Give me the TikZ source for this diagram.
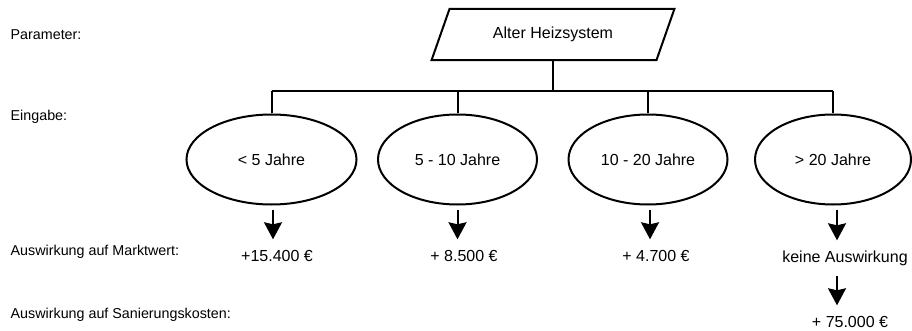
\documentclass[tikz,border=0pt]{standalone}
\usepackage{fontspec}
\setmainfont{Liberation Sans}
\usetikzlibrary{shapes.geometric,arrows.meta}
\begin{document}
\begin{tikzpicture}[x=1pt,y=-1pt,
 lbl/.style={anchor=west,inner sep=0pt,font=\fontsize{14.3}{17}\selectfont},
 txt/.style={font=\fontsize{16}{19}\selectfont},
 oval/.style={draw,line width=2pt,ellipse,minimum height=90pt,inner sep=0pt,txt},
 parabox/.style={rectangle,minimum width=224.5pt,minimum height=51pt,inner sep=0pt,txt},
 val/.style={txt,inner sep=0pt,text height=11.5pt,text depth=3.5pt},
 conn/.style={line width=2pt},
 arr/.style={line width=2pt,-{Stealth[length=17pt,width=18pt,inset=2pt]}}
]
\useasboundingbox (0,0) rectangle (912,331);

% row labels
\node[lbl] (lp) at (10.5,35) {Parameter:};
\node[lbl] (le) at (10.5,117) {Eingabe:};
\node[lbl] (lm) at (10.5,252) {Auswirkung auf Marktwert:};
\node[lbl] (ls) at (10.5,315) {Auswirkung auf Sanierungskosten:};

% parameter (parallelogram)
\node[parabox] (p) at (553,34.5) {Alter Heizsystem};
\draw[conn,line join=miter] ([xshift=-9pt]p.south west) -- ([xshift=9pt]p.north west)
  -- ([xshift=9pt]p.north east) -- ([xshift=-9pt]p.south east) -- cycle;

% inputs
\node[oval,minimum width=170pt] (e1) at (271.5,159.5) {< 5 Jahre};
\node[oval,minimum width=159pt] (e2) at (457.5,159.5) {5 - 10 Jahre};
\node[oval,minimum width=159pt] (e3) at (648,159.5) {10 - 20 Jahre};
\node[oval,minimum width=156pt] (e4) at (833,159.5) {> 20 Jahre};

% bus
\coordinate (bus) at (553,91);
\draw[conn] (p.south) -- (p.south |- bus);
\draw[conn] (e1.north |- bus) -- (e4.north |- bus);
\foreach \e in {e1,e2,e3,e4} {\draw[conn] (\e.north |- bus) -- (\e.north);}

% values
\node[val] (v1) at (277,257) {+15.400 €};
\node[val] (v2) at (464,257) {+ 8.500 €};
\node[val] (v3) at (656,257) {+ 4.700 €};
\node[val] (v4) at (845,258) {keine Auswirkung};
\node[val] (v5) at (850,323) {+ 75.000 €};

\draw[arr,shorten <=4pt,shorten >=10pt] ([xshift=1.5pt]e1.south) -- ([xshift=1.5pt]e1.south |- v1.north);
\draw[arr,shorten <=4pt,shorten >=10pt] (e2.south) -- (e2.south |- v2.north);
\draw[arr,shorten <=4pt,shorten >=10pt] ([xshift=2pt]e3.south) -- ([xshift=2pt]e3.south |- v3.north);
\draw[arr,shorten <=4pt,shorten >=10pt] ([xshift=4pt]e4.south) -- ([xshift=4pt]e4.south |- v4.north);
\draw[arr,shorten <=10pt,shorten >=10pt] ([xshift=4pt]e4.south |- v4.south) -- ([xshift=4pt]e4.south |- v5.north);
\end{tikzpicture}
\end{document}
